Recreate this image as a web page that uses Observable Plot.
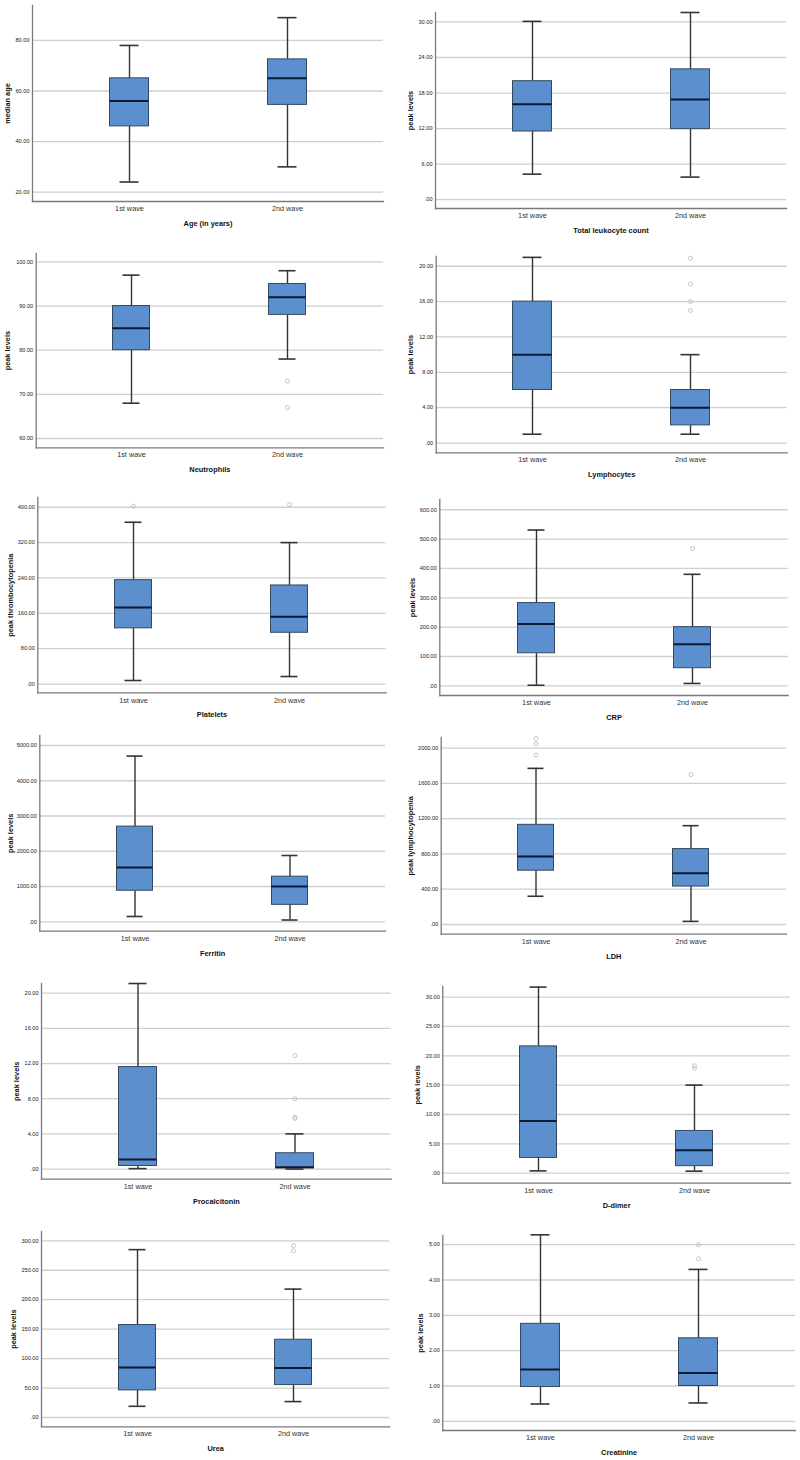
<!DOCTYPE html>
<html><head><meta charset="utf-8">
<script src="https://cdn.jsdelivr.net/npm/d3@7"></script>
<script src="https://cdn.jsdelivr.net/npm/@observablehq/plot@0.6"></script>
<style>
body{margin:0;background:#fff;}
#root{position:relative;width:800px;height:1460px;background:#fff;overflow:hidden;}
.panel{position:absolute;}
g[aria-label="y-axis tick label"]{font-size:5.6px;fill:#222;}
g[aria-label="x-axis tick label"]{font-size:7.3px;fill:#333;}
g[aria-label="y-axis label"], g[aria-label="x-axis label"]{font-size:7.4px;font-weight:bold;fill:#111;}
</style></head>
<body><div id="root"></div>
<script>
// ---------- data ----------
const waves = ["1st wave", "2nd wave"];
const titles = ["Age (in years)", "Total leukocyte count", "Neutrophils", "Lymphocytes",
  "Platelets", "CRP", "Ferritin", "LDH", "Procalcitonin", "D-dimer", "Urea", "Creatinine"];
const yLabels = ["median age", "peak levels", "peak levels", "peak levels",
  "peak thrombocytopenia", "peak levels", "peak levels", "peak lymphocytopenia",
  "peak levels", "peak levels", "peak levels", "peak levels"];
const lowWhisker  = [[24, 30], [4.3, 3.8], [68, 78], [1, 1], [8, 17], [2, 8], [150, 50], [320, 35], [0.05, 0], [0.4, 0.35], [19, 27], [0.49, 0.52]];
const quartile1   = [[46, 54.5], [11.5, 11.9], [80, 88], [6, 2], [126, 116], [111, 60], [880, 480], [610, 430], [0.35, 0.08], [2.6, 1.2], [46, 55], [0.97, 1.0]];
const medians     = [[56, 65], [16.1, 16.9], [85, 92], [10, 4], [173, 152], [211, 142], [1540, 1000], [770, 580], [1.1, 0.2], [8.9, 3.9], [85, 84], [1.47, 1.37]];
const quartile3   = [[65, 72.5], [20.0, 22.0], [90, 95], [16, 6], [235, 223], [282, 200], [2700, 1280], [1130, 855], [11.6, 1.8], [21.6, 7.2], [157, 132], [2.76, 2.35]];
const highWhisker = [[78, 89], [30.1, 31.6], [97, 98], [21, 10], [366, 320], [531, 380], [4700, 1880], [1770, 1120], [21.1, 4.0], [31.7, 15.0], [285, 218], [5.28, 4.3]];
// outliers: [wave index, value]
const outliers = [
  [], [], [[1, 73], [1, 67]], [[1, 20.9], [1, 18], [1, 16], [1, 15]],
  [[0, 402], [1, 406]], [[1, 468]], [], [[0, 1920], [0, 2045], [0, 2110], [1, 1700]],
  [[1, 12.9], [1, 8.0], [1, 5.9], [1, 5.75]], [[1, 18.3], [1, 17.9]], [[1, 292], [1, 283]], [[1, 5.0], [1, 4.6]]
];
const tickValues = [
  [20, 40, 60, 80], [0, 6, 12, 18, 24, 30], [60, 70, 80, 90, 100], [0, 4, 8, 12, 16, 20],
  [0, 80, 160, 240, 320, 400], [0, 100, 200, 300, 400, 500, 600], [0, 1000, 2000, 3000, 4000, 5000], [0, 400, 800, 1200, 1600, 2000],
  [0, 4, 8, 12, 16, 20], [0, 5, 10, 15, 20, 25, 30], [0, 50, 100, 150, 200, 250, 300], [0, 1, 2, 3, 4, 5]
];
const yDomains = [
  [16.3, 93.8], [-1.5, 31.6], [57.9, 101.9], [-1.1, 21.1],
  [-20, 422], [-33, 635], [-267, 5284], [-109, 2120],
  [-1.14, 21.1], [-1.7, 31.8], [-15.8, 315.8], [-0.26, 5.26]
];

// ---------- layout: frame left, right, top, bottom (page px) ----------
const frames = [
  [32, 383, 5, 201], [435, 786, 12, 208],
  [35.7, 383, 252.7, 447], [435.7, 786.7, 256, 452.3],
  [37.3, 385.7, 497.3, 692.7], [439.3, 787.7, 499, 695],
  [39.3, 385, 735, 930.7], [440.7, 786, 736.7, 933.3],
  [41, 390.7, 982.7, 1178.3], [442.3, 790, 986, 1182.7],
  [41, 389.3, 1230.7, 1426], [442.3, 795, 1235, 1430]
];
const yLabelOffsets = [28, 28, 31.4, 28.7, 30, 29.6, 32, 33.7, 28, 28.3, 31, 24.6];

const fmt = v => v === 0 ? ".00" : v.toFixed(2);
const root = document.getElementById("root");

titles.forEach((title, i) => {
  const col = i % 2, colLeft = col * 400;
  const [fl, fr, ft, fb] = frames[i];
  const mt = 5, mb = 35;
  const height = (fb - ft) + mt + mb;
  const stats = waves.map((w, j) => ({
    wave: w, lo: lowWhisker[i][j], q1: quartile1[i][j], med: medians[i][j],
    q3: quartile3[i][j], hi: highWhisker[i][j]
  }));
  const outs = outliers[i].map(([j, v]) => ({wave: waves[j], v}));
  const boxInset = 59.5, capInset = 69.5;
  const plot = Plot.plot({
    width: 400, height,
    marginLeft: fl - colLeft, marginRight: colLeft + 400 - fr,
    marginTop: mt, marginBottom: mb,
    style: {fontFamily: "Liberation Sans, Arial, sans-serif", background: "transparent"},
    x: {type: "band", domain: waves, paddingInner: 0, paddingOuter: 0.11},
    y: {domain: yDomains[i]},
    marks: [
      Plot.gridY(tickValues[i], {stroke: "#cfcfcf", strokeOpacity: 1, strokeWidth: 1.3}),
      Plot.frame({anchor: "left", stroke: "#7a7a7a", strokeWidth: 1.3}),
      Plot.frame({anchor: "bottom", stroke: "#7a7a7a", strokeWidth: 1.3}),
      Plot.axisY(tickValues[i], {tickSize: 0, tickPadding: 3, tickFormat: fmt,
        label: yLabels[i], labelAnchor: "center", labelOffset: yLabelOffsets[i], labelArrow: "none"}),
      Plot.axisX({tickSize: 0, tickPadding: 4.5, label: title, labelAnchor: "center", labelOffset: 24.5, labelArrow: "none"}),
      Plot.ruleX(stats, {x: "wave", y1: "lo", y2: "q1", stroke: "#333", strokeWidth: 1.4}),
      Plot.ruleX(stats, {x: "wave", y1: "q3", y2: "hi", stroke: "#333", strokeWidth: 1.4}),
      Plot.tickY(stats, {x: "wave", y: "lo", stroke: "#333", strokeWidth: 1.6, insetLeft: capInset, insetRight: capInset}),
      Plot.tickY(stats, {x: "wave", y: "hi", stroke: "#333", strokeWidth: 1.6, insetLeft: capInset, insetRight: capInset}),
      Plot.barY(stats, {x: "wave", y1: "q1", y2: "q3", fill: "#5b8fcd", stroke: "#34495f", strokeWidth: 1, insetLeft: boxInset, insetRight: boxInset}),
      Plot.tickY(stats, {x: "wave", y: "med", stroke: "#0b1a33", strokeWidth: 2, insetLeft: boxInset, insetRight: boxInset}),
      Plot.dot(outs, {x: "wave", y: "v", r: 2, stroke: "#c4c4c4", fill: "none", strokeWidth: 1})
    ]
  });
  const div = document.createElement("div");
  div.className = "panel";
  div.style.left = colLeft + "px";
  div.style.top = (ft - mt) + "px";
  div.appendChild(plot);
  root.appendChild(div);
});
</script>
</body></html>
